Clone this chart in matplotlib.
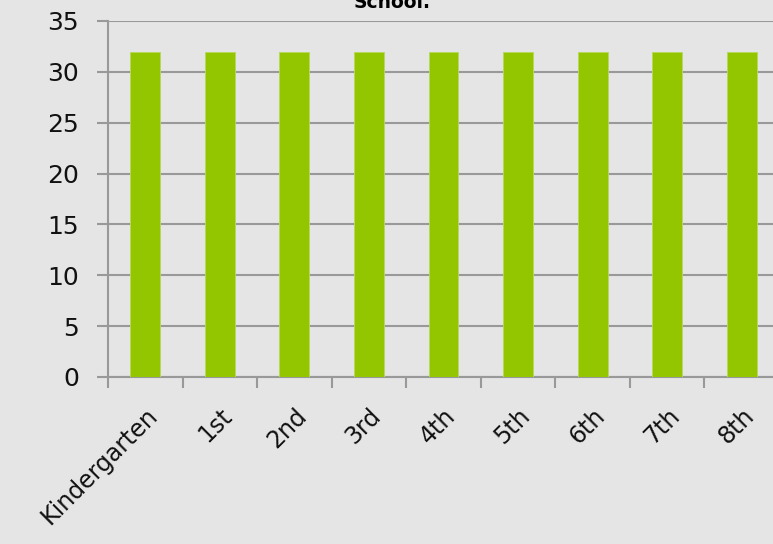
import matplotlib.pyplot as plt
import numpy as np

grades = ["Kindergarten", "1st", "2nd", "3rd", "4th", "5th", "6th", "7th", "8th"]
students = [32, 32, 32, 32, 32, 32, 32, 32, 32]

bg = "#e5e5e5"
bar_color = "#94c600"
line_color = "#999999"

plt.rcParams['font.family'] = ['DejaVu Sans']

fig = plt.figure(figsize=(7.73, 5.44), dpi=100, facecolor=bg)
ax = fig.add_axes([108 / 773, 1 - 377 / 544, 671 / 773, 356 / 544])
ax.set_facecolor(bg)

x = np.arange(len(grades)) + 0.5
ax.bar(x, students, 0.4, color=bar_color, edgecolor="#b5d95a", linewidth=0.6, zorder=3)

ax.set_xlim(0, len(grades))
ax.set_ylim(0, 35)
ax.set_yticks(np.arange(0, 36, 5))
ax.yaxis.grid(True, color=line_color, linewidth=1.5, zorder=0)

# boundary ticks on the major locator, labels centred on the bars
ax.set_xticks(np.arange(len(grades) + 1), minor=False)
ax.set_xticklabels([])
ax.set_xticks(x, minor=True)
ax.set_xticklabels(grades, minor=True, rotation=45, ha="right", rotation_mode="anchor",
                   fontsize=17, color="#111111")
ax.tick_params(axis="x", which="minor", length=0, pad=19)
ax.tick_params(axis="x", which="major", length=8, width=1.5, color=line_color)
ax.tick_params(axis="y", length=8, width=1.5, color=line_color, labelsize=18, pad=13,
               labelcolor="#111111")

for s in ["top", "right"]:
    ax.spines[s].set_visible(False)
for s in ["left", "bottom"]:
    ax.spines[s].set_color(line_color)
    ax.spines[s].set_linewidth(1.5)

fig.text(392 / 773, 1 - 8 / 544, "School.", ha="center", va="baseline",
         fontsize=13.5, fontweight="bold")

fig.savefig("out.png", dpi=100, facecolor=bg)
